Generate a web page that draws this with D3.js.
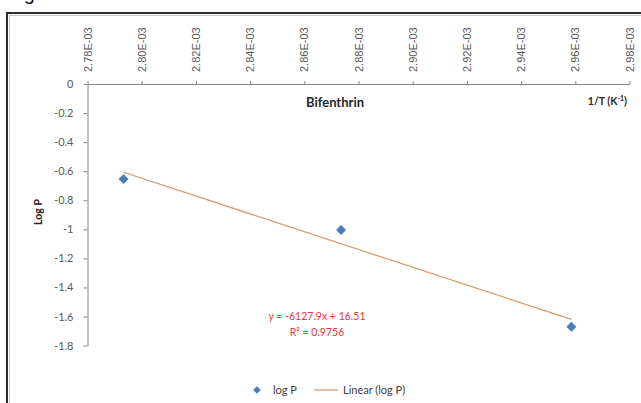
<!DOCTYPE html>
<html><head><meta charset="utf-8">
<script src="https://cdn.jsdelivr.net/npm/d3@7"></script>
<style>body{margin:0;background:#fff}svg{display:block}</style>
</head><body>
<svg id="c" width="641" height="403"></svg>
<script>
// ---- data ----
const temperaturesK = [358, 348, 338];
const invT = temperaturesK.map(t => 1 / t);
const logP = [-0.654, -1.004, -1.670];
const xTicks = [0.00278,0.00280,0.00282,0.00284,0.00286,0.00288,0.00290,0.00292,0.00294,0.00296,0.00298];
const xTickLabels = ["2.78E-03","2.80E-03","2.82E-03","2.84E-03","2.86E-03","2.88E-03","2.90E-03","2.92E-03","2.94E-03","2.96E-03","2.98E-03"];
const yTicks = [0,-0.2,-0.4,-0.6,-0.8,-1,-1.2,-1.4,-1.6,-1.8];
const trendSlope = -6127.9, trendIntercept = 16.51, rSquared = 0.9756;

const svg = d3.select("#c");
const x = d3.scaleLinear().domain([0.00278, 0.00298]).range([87.5, 629.5]);
const y = d3.scaleLinear().domain([0, -1.8]).range([84, 345.6]);

// caption fragment (cut off at top, as in the original)
svg.append("text").attr("x", 7).attr("y", 0).attr("font-family", "Liberation Sans, Arial").attr("font-size", 20).attr("fill", "#111").text("Figure");

// frame
svg.append("rect").attr("x", 7).attr("y", 13).attr("width", 700).attr("height", 500)
  .attr("fill", "none").attr("stroke", "#2b2b2b").attr("stroke-width", 2);
svg.append("rect").attr("x", 9.5).attr("y", 15.5).attr("width", 700).attr("height", 500)
  .attr("fill", "none").attr("stroke", "#c8c8c8").attr("stroke-width", 1);

// x axis (top)
const xa = svg.append("g").attr("transform", "translate(0,84)")
  .call(d3.axisTop(x).tickValues(xTicks).tickSize(3).tickSizeOuter(0).tickFormat(""));
xa.select(".domain").attr("stroke", "#868686");
xa.selectAll(".tick line").attr("stroke", "#868686");
svg.append("g").selectAll("text").data(xTicks).join("text")
  .attr("transform", (d) => `translate(${x(d) + 4},72) rotate(-90)`)
  .attr("text-anchor", "start")
  .attr("font-family", "Liberation Sans, Arial").attr("font-size", 11).attr("fill", "#595959")
  .text((d, i) => xTickLabels[i]);

// y axis
const ya = svg.append("g").attr("transform", "translate(87.5,0)")
  .call(d3.axisLeft(y).tickValues(yTicks).tickSize(4).tickSizeOuter(0).tickFormat(d => String(d).replace("−", "-")));
ya.select(".domain").attr("stroke", "#868686");
ya.selectAll(".tick line").attr("stroke", "#868686");
ya.selectAll(".tick text").attr("x", -14).attr("font-family", "Lato, Open Sans").attr("font-size", 11).attr("fill", "#595959");

// titles
svg.append("text").attr("x", 335).attr("y", 107).attr("text-anchor", "middle")
  .attr("font-family", "Lato, Open Sans").attr("font-weight", "bold").attr("font-size", 13).attr("fill", "#262626").text("Bifenthrin");
const tt = svg.append("text").attr("x", 627).attr("y", 105).attr("text-anchor", "end")
  .attr("font-family", "Lato, Open Sans").attr("font-weight", "bold").attr("font-size", 10.5).attr("fill", "#262626");
tt.append("tspan").text("1/T (K");
tt.append("tspan").attr("font-size", 7).attr("dy", -4).text("-1");
tt.append("tspan").attr("dy", 4).text(")");
svg.append("text").attr("transform", "translate(42,212) rotate(-90)").attr("text-anchor", "middle")
  .attr("font-family", "Lato, Open Sans").attr("font-weight", "bold").attr("font-size", 10.5).attr("fill", "#262626").text("Log P");

// trend line
const xr = d3.extent(invT);
svg.append("line")
  .attr("x1", x(xr[0])).attr("y1", y(trendSlope * xr[0] + trendIntercept))
  .attr("x2", x(xr[1])).attr("y2", y(trendSlope * xr[1] + trendIntercept))
  .attr("stroke", "#d09a70").attr("stroke-width", 1.2);

// points
const diamond = d3.symbol().type(d3.symbolSquare).size(50);
svg.append("g").selectAll("path").data(invT).join("path")
  .attr("d", diamond)
  .attr("transform", (d, i) => `translate(${x(d)},${y(logP[i])}) rotate(45)`)
  .attr("fill", "#4a7ebb");

// equation
const eq = svg.append("g").attr("font-family", "Lato, Open Sans").attr("font-size", 10.5).attr("fill", "#f0323c").attr("text-anchor", "middle");
eq.append("text").attr("x", 317).attr("y", 320).text(`y = ${trendSlope}x + ${trendIntercept}`);
eq.append("text").attr("x", 317).attr("y", 336).text(`R² = ${rSquared}`);

// legend
const lg = svg.append("g").attr("font-family", "Lato, Open Sans").attr("font-size", 11).attr("fill", "#404040");
lg.append("path").attr("d", d3.symbol().type(d3.symbolSquare).size(30)).attr("transform", "translate(257,390) rotate(45)").attr("fill", "#4a7ebb");
lg.append("text").attr("x", 273).attr("y", 394).text("log P");
lg.append("line").attr("x1", 314).attr("x2", 338).attr("y1", 390).attr("y2", 390).attr("stroke", "#d09a70").attr("stroke-width", 1.2);
lg.append("text").attr("x", 343).attr("y", 394).text("Linear (log P)");
</script>
</body></html>
